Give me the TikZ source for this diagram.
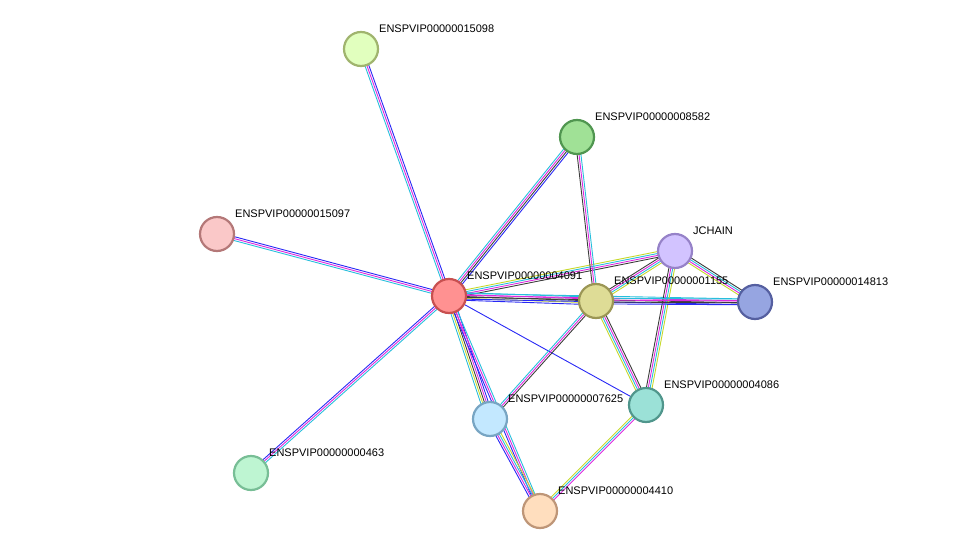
\documentclass[tikz,border=0pt]{standalone}
\usepackage{fontspec}
\setmainfont{Liberation Sans}
\usetikzlibrary{calc}
\definecolor{tm}{RGB}{199,217,43}
\definecolor{ex}{RGB}{222,40,222}
\definecolor{db}{RGB}{40,190,220}
\definecolor{co}{RGB}{60,60,60}
\definecolor{oc}{RGB}{40,40,245}
% draw one multi-coloured link between two named points
\newcommand\lnk[3]{%
  \foreach \c [count=\i] in {#3} {\xdef\nlnk{\i}}
  \foreach \c [count=\i] in {#3} {
    \pgfmathsetmacro\off{(\i-(\nlnk+1)/2)*1.9}
    \draw [\c, line width=0.9pt] ($(#1)!\off pt!90:(#2)$) -- ($(#2)!-\off pt!90:(#1)$);
  }}
\begin{document}
\begin{tikzpicture}[x=1pt, y=-1pt,
                    prot/.style = {circle, line width=2.2pt, minimum size=34pt, inner sep=0pt},
                    lbl/.style = {anchor=south west, inner sep=1pt, font=\fontsize{11}{13}\selectfont}]
  \useasboundingbox (0,0) rectangle (976,556);
  \coordinate (P4091) at (449,296);
  \coordinate (P15098) at (361,49);
  \coordinate (P8582) at (577,137);
  \coordinate (P15097) at (217,234);
  \coordinate (JCHAIN) at (675,251);
  \coordinate (P1155) at (596,301);
  \coordinate (P14813) at (755,302);
  \coordinate (P4086) at (646,405);
  \coordinate (P7625) at (490,419);
  \coordinate (P463) at (251,473);
  \coordinate (P4410) at (540,511);

  \lnk{P4091}{P15098}{oc,ex,db}
  \lnk{P4091}{P8582}{oc,co,ex,db}
  \lnk{P4091}{P15097}{oc,ex,db}
  \lnk{P4091}{P463}{oc,ex,db}
  \lnk{P4091}{JCHAIN}{co,ex,db,tm}
  \lnk{P4091}{P1155}{oc,tm,co,ex,db}
  \lnk{P4091}{P14813}{oc,co,ex,db}
  \lnk{P4091}{P4086}{oc}
  \lnk{P4091}{P7625}{db,tm,co,ex,oc}
  \lnk{P4091}{P4410}{oc,ex,db}
  \lnk{P8582}{P1155}{co,ex,db}
  \lnk{JCHAIN}{P1155}{co,ex,db,tm}
  \lnk{JCHAIN}{P14813}{tm,ex,db,co}
  \lnk{JCHAIN}{P4086}{co,ex,db,tm}
  \lnk{P1155}{P14813}{oc,co,ex,db}
  \lnk{P1155}{P4086}{tm,db,ex,co}
  \lnk{P1155}{P7625}{db,ex,co}
  \lnk{P7625}{P4410}{oc,ex,db,tm}
  \lnk{P4086}{P4410}{tm,db,ex}

  \node [prot, draw={rgb,255:red,200;green,80;blue,80}, fill={rgb,255:red,255;green,145;blue,145}] (n4091) at (P4091) {};
  \node [prot, draw={rgb,255:red,160;green,180;blue,110}, fill={rgb,255:red,225;green,255;blue,190}] (n15098) at (P15098) {};
  \node [prot, draw={rgb,255:red,80;green,150;blue,80}, fill={rgb,255:red,160;green,225;blue,150}] (n8582) at (P8582) {};
  \node [prot, draw={rgb,255:red,180;green,120;blue,120}, fill={rgb,255:red,250;green,200;blue,200}] (n15097) at (P15097) {};
  \node [prot, draw={rgb,255:red,150;green,130;blue,200}, fill={rgb,255:red,210;green,195;blue,255}] (nJCHAIN) at (JCHAIN) {};
  \node [prot, draw={rgb,255:red,155;green,150;blue,85}, fill={rgb,255:red,222;green,220;blue,150}] (n1155) at (P1155) {};
  \node [prot, draw={rgb,255:red,85;green,95;blue,160}, fill={rgb,255:red,150;green,165;blue,225}] (n14813) at (P14813) {};
  \node [prot, draw={rgb,255:red,80;green,150;blue,140}, fill={rgb,255:red,155;green,225;blue,215}] (n4086) at (P4086) {};
  \node [prot, draw={rgb,255:red,120;green,165;blue,195}, fill={rgb,255:red,195;green,232;blue,255}] (n7625) at (P7625) {};
  \node [prot, draw={rgb,255:red,120;green,190;blue,150}, fill={rgb,255:red,190;green,245;blue,210}] (n463) at (P463) {};
  \node [prot, draw={rgb,255:red,190;green,150;blue,120}, fill={rgb,255:red,255;green,222;blue,190}] (n4410) at (P4410) {};

  \node [lbl] at ($(P4091)+(17,-15)$) {ENSPVIP00000004091};
  \node [lbl] at ($(P15098)+(17,-15)$) {ENSPVIP00000015098};
  \node [lbl] at ($(P8582)+(17,-15)$) {ENSPVIP00000008582};
  \node [lbl] at ($(P15097)+(17,-15)$) {ENSPVIP00000015097};
  \node [lbl] at ($(JCHAIN)+(17,-15)$) {JCHAIN};
  \node [lbl] at ($(P1155)+(17,-15)$) {ENSPVIP00000001155};
  \node [lbl] at ($(P14813)+(17,-15)$) {ENSPVIP00000014813};
  \node [lbl] at ($(P4086)+(17,-15)$) {ENSPVIP00000004086};
  \node [lbl] at ($(P7625)+(17,-15)$) {ENSPVIP00000007625};
  \node [lbl] at ($(P463)+(17,-15)$) {ENSPVIP00000000463};
  \node [lbl] at ($(P4410)+(17,-15)$) {ENSPVIP00000004410};
\end{tikzpicture}
\end{document}
